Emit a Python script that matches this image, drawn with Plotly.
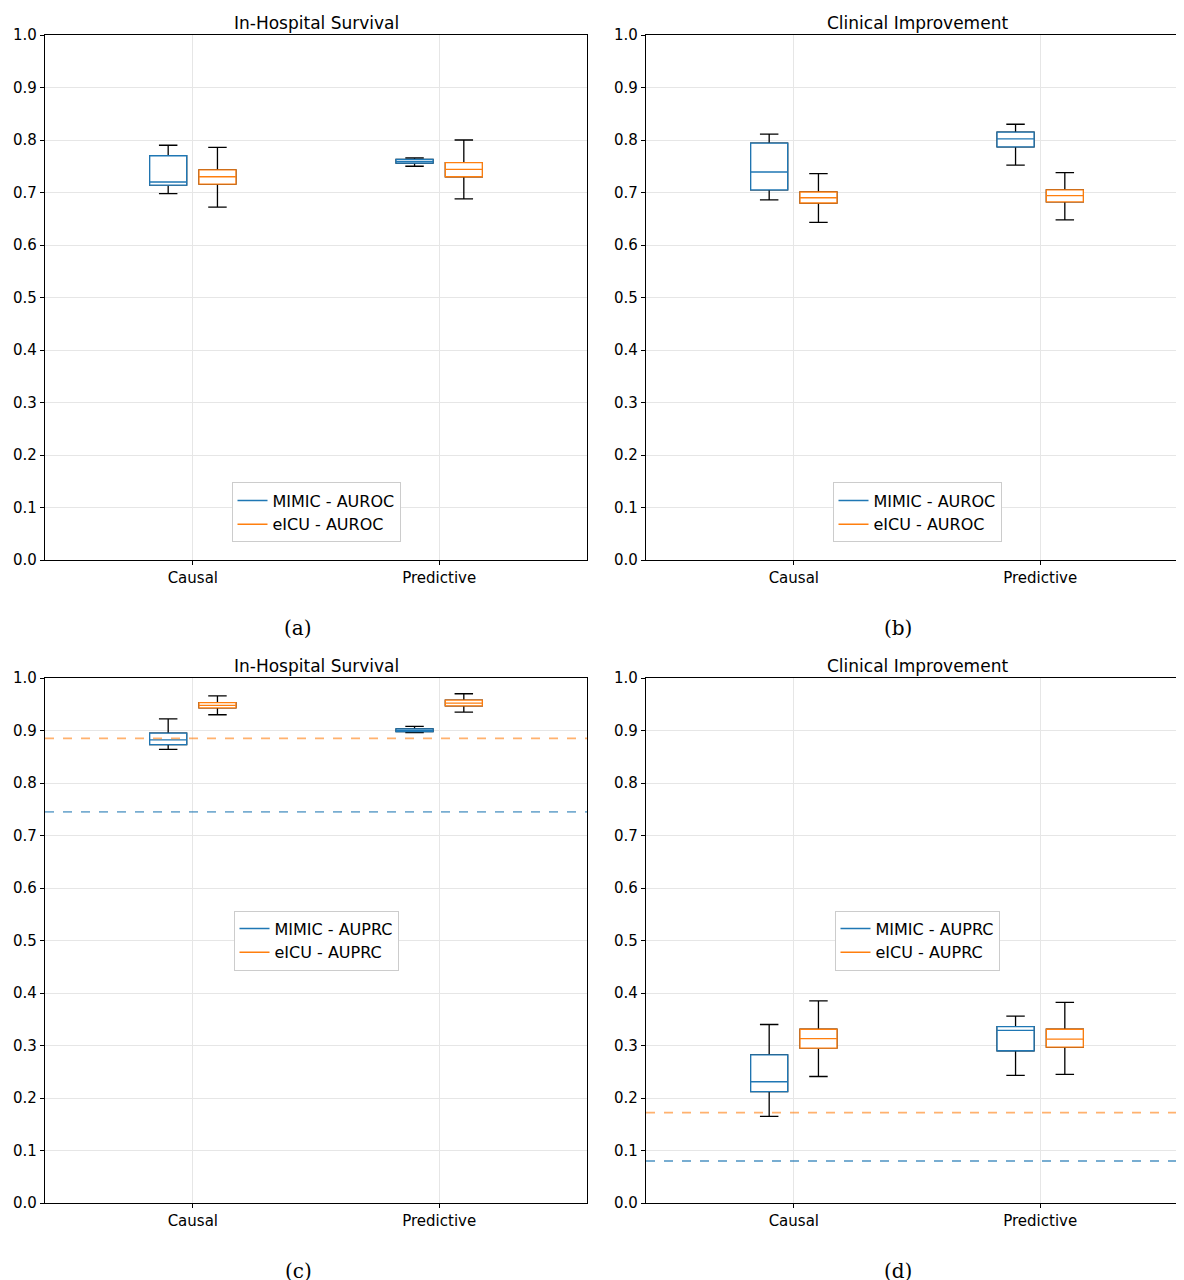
import plotly.graph_objects as go

cats = ["Causal", "Predictive"]
titles = ["In-Hospital Survival", "Clinical Improvement", "In-Hospital Survival", "Clinical Improvement"]
captions = ["(a)", "(b)", "(c)", "(d)"]
metrics = ["AUROC", "AUROC", "AUPRC", "AUPRC"]

# per panel: [Causal, Predictive] each (low, q1, med, q3, high)
mimic = [
    [(0.698, 0.714, 0.720, 0.770, 0.790), (0.750, 0.756, 0.759, 0.763, 0.766)],
    [(0.686, 0.705, 0.739, 0.794, 0.811), (0.752, 0.787, 0.802, 0.815, 0.830)],
    [(0.864, 0.873, 0.882, 0.895, 0.922), (0.896, 0.898, 0.900, 0.903, 0.908)],
    [(0.165, 0.212, 0.231, 0.282, 0.340), (0.243, 0.290, 0.329, 0.336, 0.356)],
]
eicu = [
    [(0.672, 0.716, 0.730, 0.743, 0.786), (0.688, 0.730, 0.744, 0.757, 0.800)],
    [(0.643, 0.680, 0.690, 0.701, 0.736), (0.648, 0.682, 0.694, 0.705, 0.738)],
    [(0.930, 0.943, 0.948, 0.953, 0.966), (0.935, 0.947, 0.952, 0.958, 0.970)],
    [(0.241, 0.295, 0.313, 0.331, 0.385), (0.245, 0.297, 0.312, 0.331, 0.382)],
]
baseline_mimic = [None, None, 0.745, 0.080]
baseline_eicu = [None, None, 0.885, 0.172]

BLUE = "#1f77b4"
ORANGE = "#ff7f0e"
font = "DejaVu Sans"

fig = go.Figure()
W, H = 1184, 1280
ml, mr, mt, mb = 37, 4, 27, 85
pw, ph = W - ml - mr, H - mt - mb
xdoms = [[0, 542 / pw], [601 / pw, 1]]
ydoms = [[(1195 - 552) / ph, 1], [0, 525 / ph]]

for p in range(4):
    r, c = divmod(p, 2)
    ax = "" if p == 0 else str(p + 1)
    xa, ya = "x" + ax, "y" + ax
    for series, color, off in [(mimic[p], BLUE, -0.1), (eicu[p], ORANGE, 0.1)]:
        for i, (lo, q1, md, q3, hi) in enumerate(series):
            x = i + off
            fig.add_trace(go.Box(x=[x], lowerfence=[lo], q1=[q1], median=[md], q3=[q3], upperfence=[hi],
                                 width=0.15, whiskerwidth=0.5, line=dict(color="black", width=1.3),
                                 fillcolor="rgba(0,0,0,0)", showlegend=False, xaxis=xa, yaxis=ya,
                                 hoverinfo="skip"))
            fig.add_trace(go.Box(x=[x], lowerfence=[q1], q1=[q1], median=[md], q3=[q3], upperfence=[q3],
                                 width=0.15, whiskerwidth=0, line=dict(color=color, width=1.3),
                                 fillcolor="white", showlegend=False, xaxis=xa, yaxis=ya,
                                 hoverinfo="skip"))
    leg = "legend" if p == 0 else "legend" + str(p + 1)
    for color, name in [(BLUE, "MIMIC - " + metrics[p]), (ORANGE, "eICU - " + metrics[p])]:
        fig.add_trace(go.Scatter(x=[None], y=[None], mode="lines", line=dict(color=color, width=1.5),
                                 name=name, xaxis=xa, yaxis=ya, legend=leg))
    for val, color in [(baseline_mimic[p], BLUE), (baseline_eicu[p], ORANGE)]:
        if val is not None:
            fig.add_trace(go.Scatter(x=[-0.6, 1.6], y=[val, val], mode="lines",
                                     line=dict(color=color, width=1.8, dash="dash"), opacity=0.6,
                                     showlegend=False, xaxis=xa, yaxis=ya, hoverinfo="skip",
                                     cliponaxis=False))
    axis_common = dict(showline=True, linecolor="black", linewidth=1.2, mirror=True, ticks="outside",
                       ticklen=4, tickcolor="black", gridcolor="#e6e6e6", zeroline=False,
                       automargin=False,
                       tickfont=dict(family=font, size=15, color="black"))
    fig.layout["xaxis" + ax] = dict(domain=xdoms[c], range=[-0.6, 1.6], tickvals=[0, 1], ticktext=cats,
                                    anchor=ya, **axis_common)
    fig.layout["yaxis" + ax] = dict(domain=ydoms[r], range=[0, 1], dtick=0.1, tickformat=".1f",
                                    anchor=xa, **axis_common)
    xc = (xdoms[c][0] + xdoms[c][1]) / 2
    if p < 2:
        ly, ya_anchor = ydoms[r][0] + 0.015, "bottom"
    else:
        ly, ya_anchor = ydoms[r][0] + 0.5 * (ydoms[r][1] - ydoms[r][0]), "middle"
    fig.layout[leg] = dict(x=xc, y=ly, xanchor="center", yanchor=ya_anchor,
                           bgcolor="white", bordercolor="#cccccc", borderwidth=1,
                           font=dict(family=font, size=16, color="black"))
    fig.add_annotation(text=titles[p], x=xc, y=ydoms[r][1], xref="paper", yref="paper",
                       xanchor="center", yanchor="bottom", showarrow=False, yshift=0,
                       font=dict(family=font, size=17, color="black"))
    fig.add_annotation(text=captions[p], x=(290 - ml) / pw if c == 0 else (890 - ml) / pw,
                       y=ydoms[r][0], xref="paper", yref="paper", xanchor="center",
                       yanchor="middle", yshift=-68,
                       showarrow=False, font=dict(family="DejaVu Serif", size=20, color="black"))

fig.update_layout(width=W, height=H, margin=dict(l=ml, r=mr, t=mt, b=mb, autoexpand=False),
                  plot_bgcolor="white", paper_bgcolor="white", boxmode="overlay")
fig.write_html("out.html")
